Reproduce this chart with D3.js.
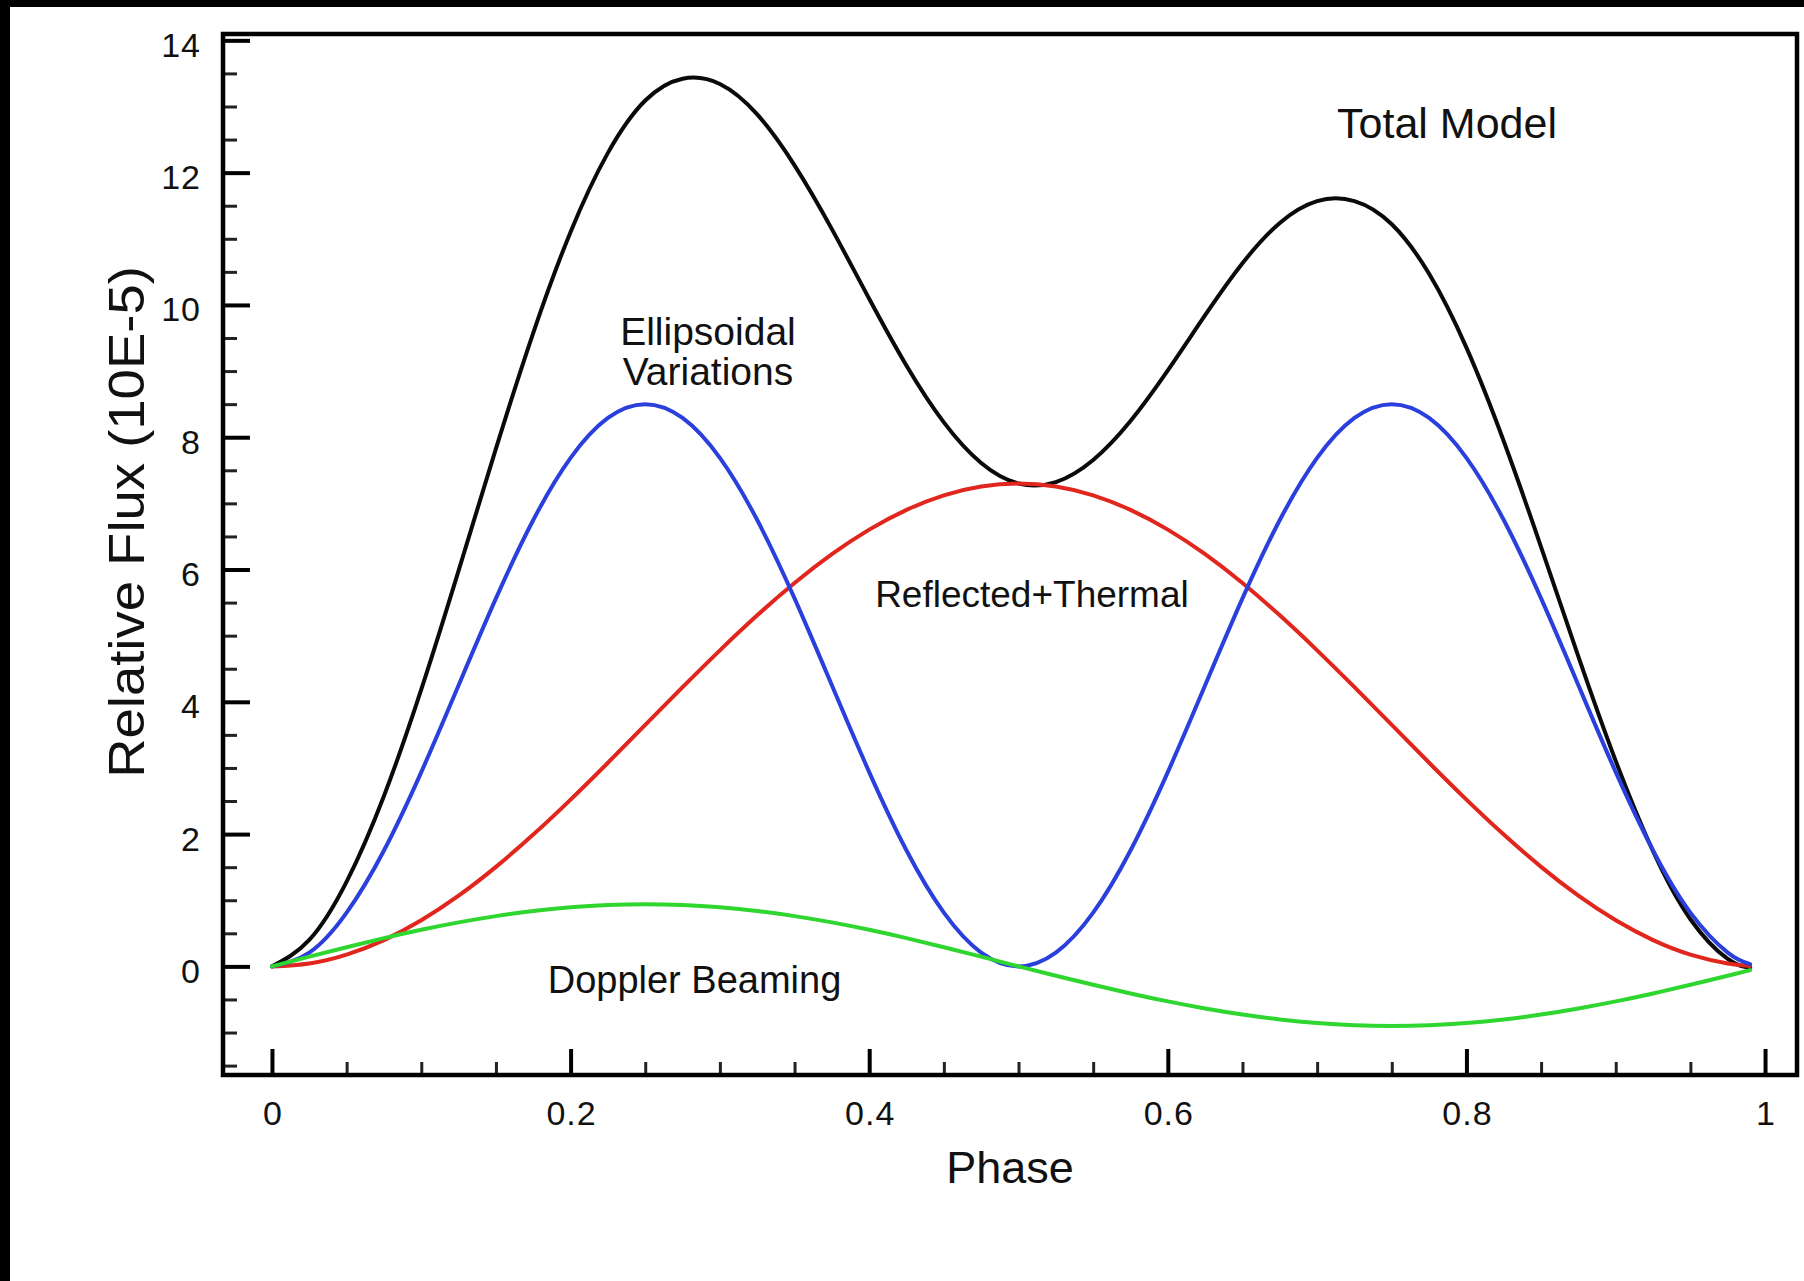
<!DOCTYPE html>
<html>
<head>
<meta charset="utf-8">
<script src="https://cdn.jsdelivr.net/npm/d3@7"></script>
<style>
  html, body { margin: 0; padding: 0; background: #fff; }
  svg { display: block; }
  text { font-family: "Liberation Sans", Arial, Helvetica, sans-serif; fill: #111; }
</style>
</head>
<body>
<svg id="chart" width="1804" height="1281"></svg>
<script>
// Orbital phase samples
const phase = [0, 0.025, 0.05, 0.075, 0.1, 0.125, 0.15, 0.175, 0.2, 0.225,
               0.25, 0.275, 0.3, 0.325, 0.35, 0.375, 0.4, 0.425, 0.45, 0.475,
               0.5, 0.525, 0.55, 0.575, 0.6, 0.625, 0.65, 0.675, 0.7, 0.725,
               0.75, 0.775, 0.8, 0.825, 0.85, 0.875, 0.9, 0.925, 0.95, 0.975, 0.99];

// Relative flux components (units of 1e-5)
const ellipsoidal = [0, 0.208, 0.812, 1.752, 2.937, 4.25, 5.563, 6.748, 7.688, 8.292,
                     8.5, 8.292, 7.688, 6.748, 5.563, 4.25, 2.937, 1.752, 0.812, 0.208,
                     0, 0.208, 0.812, 1.752, 2.937, 4.25, 5.563, 6.748, 7.688, 8.292,
                     8.5, 8.292, 7.688, 6.748, 5.563, 4.25, 2.937, 1.752, 0.812, 0.208, 0.034];

const reflected = [0, 0.045, 0.179, 0.398, 0.697, 1.069, 1.505, 1.993, 2.522, 3.079,
                   3.65, 4.221, 4.778, 5.307, 5.795, 6.231, 6.603, 6.902, 7.122, 7.255,
                   7.30, 7.255, 7.122, 6.902, 6.603, 6.231, 5.795, 5.307, 4.778, 4.221,
                   3.65, 3.079, 2.522, 1.993, 1.505, 1.069, 0.697, 0.398, 0.179, 0.045, 0.007];

const doppler = [0, 0.147, 0.290, 0.427, 0.553, 0.665, 0.760, 0.838, 0.894, 0.928,
                 0.94, 0.928, 0.894, 0.838, 0.760, 0.665, 0.553, 0.427, 0.290, 0.147,
                 0, -0.141, -0.278, -0.409, -0.529, -0.636, -0.728, -0.802, -0.856, -0.889,
                 -0.90, -0.889, -0.856, -0.802, -0.728, -0.636, -0.529, -0.409, -0.278, -0.141, -0.057];

const total = [0, 0.400, 1.281, 2.577, 4.187, 5.984, 7.828, 9.579, 11.104, 12.299,
               13.09, 13.42, 13.34, 12.88, 12.11, 11.146, 10.093, 9.081, 8.224, 7.61,
               7.30, 7.322, 7.656, 8.245, 9.011, 9.845, 10.63, 11.24, 11.57, 11.57,
               11.22, 10.47, 9.354, 7.939, 6.34, 4.683, 3.105, 1.741, 0.713, 0.112, -0.016];

// Axis ticks and labels
const xMajorTicks = [0, 0.2, 0.4, 0.6, 0.8, 1];
const xTickLabels = ["0", "0.2", "0.4", "0.6", "0.8", "1"];
const xMinorTicks = [0.05, 0.1, 0.15, 0.25, 0.3, 0.35, 0.45, 0.5, 0.55, 0.65, 0.7, 0.75, 0.85, 0.9, 0.95];
const yMajorTicks = [0, 2, 4, 6, 8, 10, 12, 14];
const yTickLabels = ["0", "2", "4", "6", "8", "10", "12", "14"];
const yMinorTicks = [-1.5, -1, -0.5, 0.5, 1, 1.5, 2.5, 3, 3.5, 4.5, 5, 5.5, 6.5, 7, 7.5,
                     8.5, 9, 9.5, 10.5, 11, 11.5, 12.5, 13, 13.5];

// Curve annotations
const annotations = [
  { lines: ["Total Model"], x: 0.787, y: 12.52, size: 43 },
  { lines: ["Ellipsoidal", "Variations"], x: 0.292, y: 9.39, size: 39 },
  { lines: ["Reflected+Thermal"], x: 0.509, y: 5.437, size: 37 },
  { lines: ["Doppler Beaming"], x: 0.283, y: -0.40, size: 38 }
];

const series = [
  { name: "Total Model", values: total, color: "#0a0a0a" },
  { name: "Reflected+Thermal", values: reflected, color: "#e0261d" },
  { name: "Ellipsoidal Variations", values: ellipsoidal, color: "#2a3fdc" },
  { name: "Doppler Beaming", values: doppler, color: "#2fd62f" }
];

const svg = d3.select("#chart");
const W = 1804, H = 1281;
const plot = { left: 223, right: 1797, top: 34, bottom: 1075 };

svg.append("rect").attr("width", W).attr("height", H).attr("fill", "#fff");
// dark edge strips of the figure
svg.append("rect").attr("x", 0).attr("y", 0).attr("width", 10).attr("height", H).attr("fill", "#000");
svg.append("rect").attr("x", 0).attr("y", 0).attr("width", W).attr("height", 7).attr("fill", "#000");

const x = d3.scaleLinear().domain([-0.0328, 1.0214]).range([plot.left, plot.right]);
const y = d3.scaleLinear().domain([-1.642, 14.096]).range([plot.bottom, plot.top]);

// Curves: smooth spline through the sampled phases
const line = d3.line()
  .x((d, i) => x(phase[i]))
  .y(d => y(d))
  .curve(d3.curveNatural);

const curves = svg.append("g").attr("fill", "none");
series.forEach(s => {
  curves.append("path")
    .attr("d", line(s.values))
    .attr("stroke", s.color)
    .attr("stroke-width", 4)
    .attr("stroke-linejoin", "round")
    .attr("stroke-linecap", "round");
});

const tickFont = "Liberation Sans, Arial, sans-serif";

// Bottom axis: major ticks with labels, ticks pointing into the plot
const xAxis = svg.append("g")
  .attr("transform", `translate(0,${plot.bottom})`)
  .call(d3.axisBottom(x).tickValues(xMajorTicks)
    .tickFormat((d, i) => xTickLabels[i])
    .tickSizeInner(-26).tickSizeOuter(0).tickPadding(26));
xAxis.select(".domain").remove();
xAxis.selectAll(".tick line").attr("stroke", "#000").attr("stroke-width", 4);
xAxis.selectAll(".tick text")
  .attr("font-size", 34).attr("letter-spacing", 1).attr("dx", 0.5)
  .attr("font-family", tickFont).attr("fill", "#000");

const xMinor = svg.append("g")
  .attr("transform", `translate(0,${plot.bottom})`)
  .call(d3.axisBottom(x).tickValues(xMinorTicks).tickFormat("")
    .tickSizeInner(-13).tickSizeOuter(0));
xMinor.select(".domain").remove();
xMinor.selectAll(".tick line").attr("stroke", "#222").attr("stroke-width", 3);

// Left axis
const yAxis = svg.append("g")
  .attr("transform", `translate(${plot.left},0)`)
  .call(d3.axisLeft(y).tickValues(yMajorTicks)
    .tickFormat((d, i) => yTickLabels[i])
    .tickSizeInner(-27).tickSizeOuter(0).tickPadding(22));
yAxis.select(".domain").remove();
yAxis.selectAll(".tick line").attr("stroke", "#000").attr("stroke-width", 4);
yAxis.selectAll(".tick text")
  .attr("font-size", 34).attr("letter-spacing", 1).attr("dy", "0.47em")
  .attr("font-family", tickFont).attr("fill", "#000");

const yMinor = svg.append("g")
  .attr("transform", `translate(${plot.left},0)`)
  .call(d3.axisLeft(y).tickValues(yMinorTicks).tickFormat("")
    .tickSizeInner(-14).tickSizeOuter(0));
yMinor.select(".domain").remove();
yMinor.selectAll(".tick line").attr("stroke", "#222").attr("stroke-width", 3);

// Plot frame
svg.append("rect")
  .attr("x", x.range()[0]).attr("y", y.range()[1])
  .attr("width", x.range()[1] - x.range()[0])
  .attr("height", y.range()[0] - y.range()[1])
  .attr("fill", "none").attr("stroke", "#000").attr("stroke-width", 4.5);

// Axis titles
svg.append("text")
  .attr("x", 1010).attr("y", 1183)
  .attr("text-anchor", "middle").attr("font-size", 45)
  .text("Phase");

svg.append("text")
  .attr("transform", "translate(144,522) rotate(-90) scale(1.09,1)")
  .attr("text-anchor", "middle").attr("font-size", 50)
  .text("Relative Flux (10E-5)");

// Annotations
annotations.forEach(a => {
  const t = svg.append("text")
    .attr("text-anchor", "middle")
    .attr("font-size", a.size)
    .attr("x", x(a.x)).attr("y", y(a.y));
  a.lines.forEach((ln, i) => {
    t.append("tspan").attr("x", x(a.x)).attr("dy", i === 0 ? 0 : "1.03em").text(ln);
  });
});
</script>
</body>
</html>
